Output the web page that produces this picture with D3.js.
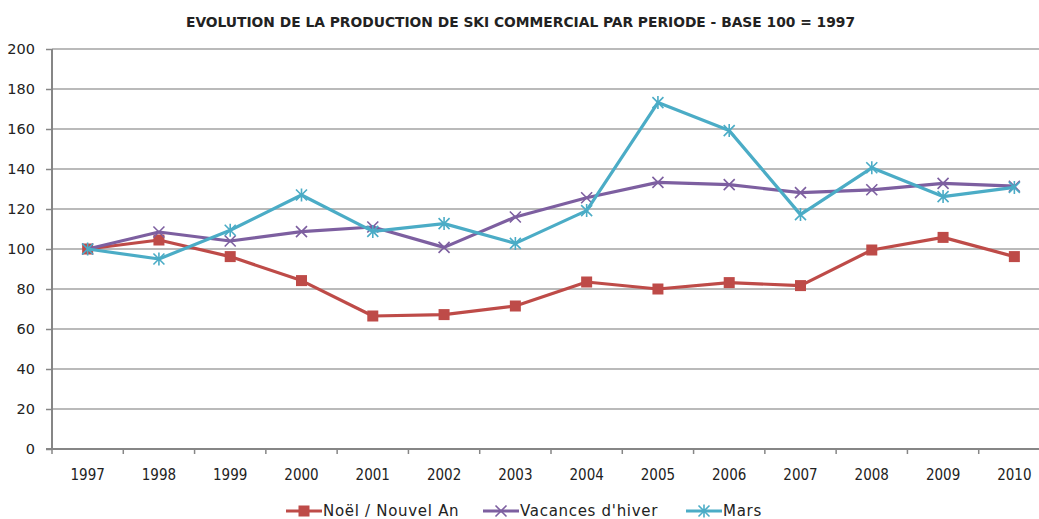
<!DOCTYPE html>
<html>
<head>
<meta charset="utf-8">
<script src="https://cdn.jsdelivr.net/npm/d3@7"></script>
<style>
  html, body { margin: 0; padding: 0; background: #ffffff; }
  svg { display: block; }
</style>
</head>
<body>
<svg id="chart" width="1039" height="519"></svg>
<script>
const years = ["1997","1998","1999","2000","2001","2002","2003","2004","2005","2006","2007","2008","2009","2010"];
const noel = [100, 104.5, 96.2, 84.2, 66.5, 67.2, 71.5, 83.5, 80, 83.2, 81.7, 99.5, 105.8, 96.2];
const vacances = [100, 108.5, 104, 108.7, 111, 100.8, 116, 125.6, 133.3, 132.2, 128.2, 129.6, 132.8, 131.4];
const mars = [100, 95, 109.4, 127, 108.8, 112.7, 102.8, 119.2, 173.2, 159.2, 117.2, 140.6, 126.2, 130.8];
const yTicks = [0, 20, 40, 60, 80, 100, 120, 140, 160, 180, 200];
const title = "EVOLUTION DE LA PRODUCTION DE SKI COMMERCIAL PAR PERIODE - BASE 100 = 1997";

const series = [
  { name: "Noël / Nouvel An", values: noel, color: "#BE4B48", marker: "square" },
  { name: "Vacances d'hiver", values: vacances, color: "#7D5FA0", marker: "x" },
  { name: "Mars", values: mars, color: "#4BACC6", marker: "star" }
];

const svg = d3.select("#chart");
const mLeft = 52, mRight = 1050, mTop = 49, mBottom = 449;
const x = d3.scaleBand().domain(years).range([mLeft, mRight]).padding(0);
const y = d3.scaleLinear().domain([0, 200]).range([mBottom, mTop]);
const cx = d => x(d) + x.bandwidth() / 2;

// title
svg.append("text")
  .attr("x", 520.5).attr("y", 27)
  .attr("text-anchor", "middle")
  .attr("font-family", "'Liberation Sans Narrow', 'DejaVu Sans Condensed', 'Liberation Sans', sans-serif")
  .attr("font-weight", "bold")
  .attr("font-size", 14)
  .attr("fill", "#222")
  .attr("textLength", 669)
  .attr("lengthAdjust", "spacingAndGlyphs")
  .text(title);

// gridlines
svg.append("g").selectAll("line")
  .data(yTicks.filter(t => t > 0))
  .join("line")
  .attr("x1", mLeft).attr("x2", mRight)
  .attr("y1", d => y(d)).attr("y2", d => y(d))
  .attr("stroke", "#a3a3a3").attr("stroke-width", 1.6);

// y axis
const yAxis = svg.append("g")
  .attr("transform", `translate(${mLeft},0)`)
  .call(d3.axisLeft(y).tickValues(yTicks).tickSize(6).tickPadding(11).tickFormat(d3.format("d")));
yAxis.select(".domain").attr("stroke", "#868686").attr("stroke-width", 2).attr("d", `M0,${mTop}V${mBottom}`);
yAxis.selectAll(".tick line").attr("stroke", "#868686").attr("stroke-width", 1.5);
yAxis.selectAll(".tick text")
  .attr("font-family", "'DejaVu Sans', sans-serif")
  .attr("font-size", 14.5).attr("fill", "#222");

// x axis
const xg = svg.append("g");
xg.append("line").attr("x1", mLeft - 6).attr("x2", mRight).attr("y1", mBottom).attr("y2", mBottom)
  .attr("stroke", "#868686").attr("stroke-width", 2);
xg.selectAll("line.tk")
  .data(years)
  .join("line").attr("class", "tk")
  .attr("x1", d => x(d)).attr("x2", d => x(d))
  .attr("y1", mBottom).attr("y2", mBottom + 5)
  .attr("stroke", "#868686").attr("stroke-width", 1.5);
xg.selectAll("text")
  .data(years)
  .join("text")
  .attr("x", d => cx(d)).attr("y", 480)
  .attr("text-anchor", "middle")
  .attr("font-family", "'Liberation Sans Narrow', 'DejaVu Sans Condensed', sans-serif")
  .attr("font-size", 15).attr("fill", "#222")
  .text(d => d);

// markers
function drawMarker(g, type, color, px, py) {
  if (type === "square") {
    g.append("rect").attr("x", px - 5.5).attr("y", py - 5.5).attr("width", 11).attr("height", 11)
      .attr("fill", color);
  } else if (type === "x") {
    const s = 5.5;
    g.append("path").attr("d", `M${px - s},${py - s}L${px + s},${py + s}M${px - s},${py + s}L${px + s},${py - s}`)
      .attr("stroke", color).attr("stroke-width", 1.6).attr("fill", "none");
  } else {
    const s = 5.5;
    g.append("path").attr("d", `M${px - s},${py - s}L${px + s},${py + s}M${px - s},${py + s}L${px + s},${py - s}M${px},${py - s - 1}L${px},${py + s + 1}`)
      .attr("stroke", color).attr("stroke-width", 1.6).attr("fill", "none");
  }
}

const line = d3.line().x((d, i) => cx(years[i])).y(d => y(d));
series.forEach(s => {
  const g = svg.append("g");
  g.append("path").datum(s.values)
    .attr("d", line)
    .attr("fill", "none").attr("stroke", s.color).attr("stroke-width", 3.2)
    .attr("stroke-linejoin", "round");
  s.values.forEach((v, i) => drawMarker(g, s.marker, s.color, cx(years[i]), y(v)));
});

// legend
const legendX = [286, 483, 686];
series.forEach((s, i) => {
  const g = svg.append("g");
  const lx = legendX[i], ly = 511;
  g.append("line").attr("x1", lx).attr("x2", lx + 36).attr("y1", ly).attr("y2", ly)
    .attr("stroke", s.color).attr("stroke-width", 3.2);
  drawMarker(g, s.marker, s.color, lx + 18, ly);
  g.append("text").attr("x", lx + 37).attr("y", ly + 4.5)
    .attr("font-family", "'DejaVu Sans', sans-serif")
    .attr("font-size", 15).attr("letter-spacing", 0.7).attr("fill", "#222")
    .text(s.name);
});
</script>
</body>
</html>
